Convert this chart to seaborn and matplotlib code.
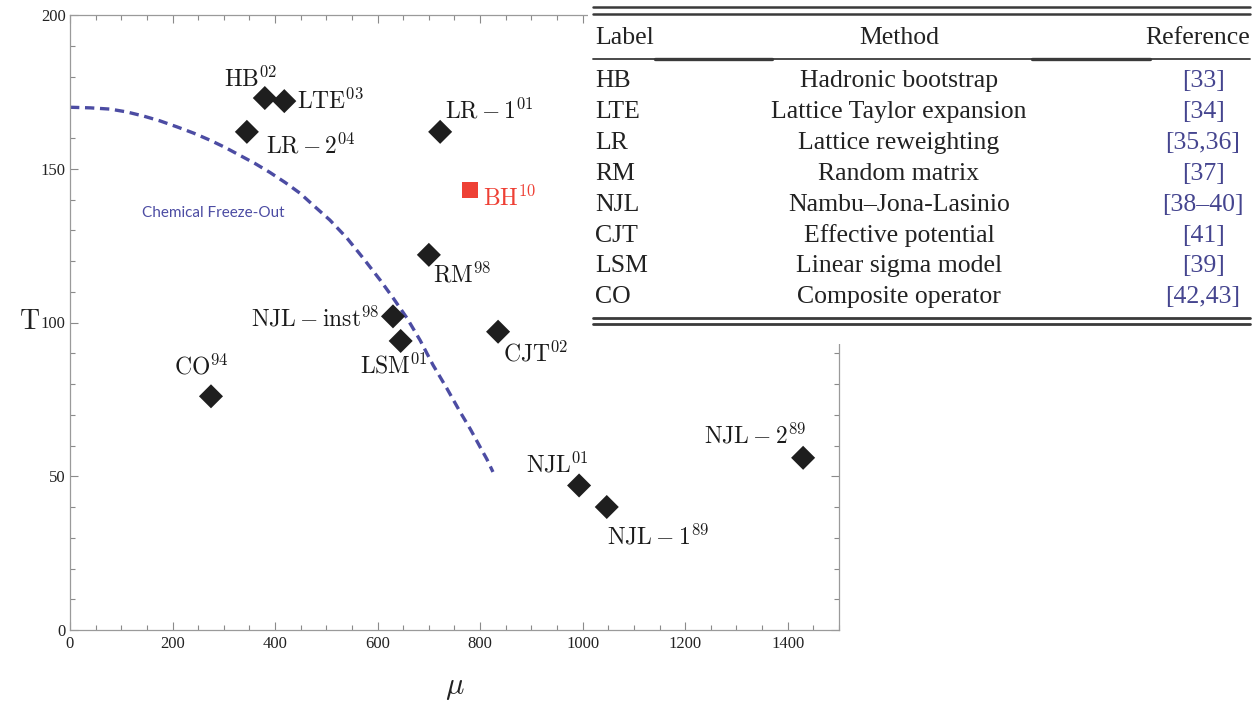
import seaborn as sns
import matplotlib.pyplot as plt
import numpy as np
import pandas as pd
from matplotlib.lines import Line2D
from matplotlib.patches import Rectangle
from matplotlib.ticker import MultipleLocator

# data
labels = ['HB', 'LTE', 'LR-2', 'LR-1', 'RM', 'NJL-inst', 'LSM', 'CJT', 'CO', 'NJL', 'NJL-1', 'NJL-2']
tex = [r'$\mathrm{HB}^{02}$', r'$\mathrm{LTE}^{03}$', r'$\mathrm{LR}-2^{04}$', r'$\mathrm{LR}-1^{01}$',
       r'$\mathrm{RM}^{98}$', r'$\mathrm{NJL}-\mathrm{inst}^{98}$', r'$\mathrm{LSM}^{01}$',
       r'$\mathrm{CJT}^{02}$', r'$\mathrm{CO}^{94}$', r'$\mathrm{NJL}^{01}$',
       r'$\mathrm{NJL}-1^{89}$', r'$\mathrm{NJL}-2^{89}$']
mu = [380, 418, 345, 722, 700, 630, 645, 835, 275, 993, 1047, 1430]
T = [173, 172, 162, 162, 122, 102, 94, 97, 76, 47, 40, 56]

bh_mu = [780]
bh_T = [143]

cfo_mu = [0, 40, 78, 110, 142, 175, 209, 241, 273, 303, 332, 361, 390, 420, 449, 474, 507,
          540, 572, 605, 631, 657, 683, 708, 735, 761, 781, 800, 813, 825]
cfo_T = [170, 169.8, 169.4, 168.5, 167.2, 165.6, 163.6, 161.6, 159.3, 156.9, 154.3, 151.7, 148.8,
         145.5, 142, 138.2, 133.3, 127.5, 120.9, 113.8, 107.8, 101.5, 94.2, 86.2, 78.6, 70.9,
         65.3, 59.5, 55.6, 51.4]

# table
tab_label = ['HB', 'LTE', 'LR', 'RM', 'NJL', 'CJT', 'LSM', 'CO']
tab_method = ['Hadronic bootstrap', 'Lattice Taylor expansion', 'Lattice reweighting', 'Random matrix',
              'Nambu\u2013Jona-Lasinio', 'Effective potential', 'Linear sigma model', 'Composite operator']
tab_ref = ['[33]', '[34]', '[35,36]', '[37]', '[38\u201340]', '[41]', '[39]', '[42,43]']

# label offsets in pixels (dx, dy down), alignment
offs = {'HB': (-14, -19, 'center'), 'LTE': (13, 0, 'left'), 'LR-2': (19, 14, 'left'),
        'LR-1': (5, -21, 'left'), 'RM': (4, 20, 'left'), 'NJL-inst': (-14, 2, 'right'),
        'LSM': (-7, 25, 'center'), 'CJT': (5, 22, 'left'), 'CO': (-10, -29, 'center'),
        'NJL': (-22, -21, 'center'), 'NJL-1': (0, 30, 'left'), 'NJL-2': (3, -22, 'right')}

sns.set_style('ticks')
plt.rcParams['font.family'] = ['Liberation Serif', 'DejaVu Serif']
plt.rcParams['mathtext.fontset'] = 'cm'

W, H = 1258, 704
fig = plt.figure(figsize=(W / 100, H / 100), dpi=100)
ax = fig.add_axes([70 / W, (H - 630) / H, 769 / W, 615 / H])

df = pd.DataFrame({'mu': mu, 'T': T, 'label': labels})
cfo = pd.DataFrame({'mu': cfo_mu, 'T': cfo_T})

sns.lineplot(data=cfo, x='mu', y='T', ax=ax, color='#4c4ca3', lw=2.4, sort=False,
             estimator=None, dashes=False)
ax.lines[-1].set_dashes((2.8, 1.7))
sns.scatterplot(data=df, x='mu', y='T', ax=ax, marker='D', s=150, color='#1e1e1e',
                edgecolor='none', linewidth=0, zorder=3)
sns.scatterplot(x=bh_mu, y=bh_T, ax=ax, marker='s', s=140, color='#ee4035',
                edgecolor='none', linewidth=0, zorder=3)

for lab, t, x, y in zip(labels, tex, mu, T):
    dx, dy, ha = offs[lab]
    ax.annotate(t, (x, y), xytext=(dx * 0.72, -dy * 0.72), textcoords='offset points',
                ha=ha, va='center', fontsize=17, color='#1a1a1a')
ax.annotate(r'$\mathrm{BH}^{10}$', (bh_mu[0], bh_T[0]), xytext=(13 * 0.72, -8 * 0.72),
            textcoords='offset points', ha='left', va='center', fontsize=17, color='#ee4035')

ax.text(140, 135.6, 'Chemical Freeze-Out', fontsize=11, color='#4c4ca3',
        family='Lato', ha='left', va='center')

ax.set_xlim(0, 1500)
ax.set_ylim(0, 200)
ax.set_xticks(np.arange(0, 1401, 200))
ax.set_yticks(np.arange(0, 201, 50))
ax.xaxis.set_minor_locator(MultipleLocator(50))
ax.yaxis.set_minor_locator(MultipleLocator(10))
ax.tick_params(which='both', direction='in', top=True, right=True, color='#8a8a8a', width=0.8,
               labelsize=12, labelcolor='#222222')
ax.tick_params(which='major', length=6)
ax.tick_params(which='minor', length=3.5)
ax.tick_params(axis='x', pad=4)
ax.tick_params(axis='y', pad=3)
for s in ax.spines.values():
    s.set_color('#9a9a9a')
    s.set_linewidth(0.9)
ax.set_xlabel('')
ax.set_ylabel('')
fig.text(455 / W, 1 - 688 / H, r'$\mu$', fontsize=22, ha='center', va='center', color='#222222')
fig.text(30 / W, 1 - 323 / H, r'$\mathrm{T}$', fontsize=20, ha='center', va='center', color='#222222')


# table drawn over the top right corner
def fx(x):
    return x / W


def fy(y):
    return 1 - y / H


fig.add_artist(Rectangle((fx(588), fy(344)), fx(W) - fx(588), fy(0) - fy(344),
                         transform=fig.transFigure, facecolor='white', edgecolor='none', zorder=2))


def rule(y, x0, x1, lw):
    fig.add_artist(Line2D([fx(x0), fx(x1)], [fy(y), fy(y)], transform=fig.transFigure,
                          color='#3a3a3a', lw=lw, zorder=3))


rule(7, 593, 1250, 1.8)
rule(14, 593, 1250, 1.8)
rule(59, 593, 1250, 1.3)
rule(59, 655, 772, 2.4)
rule(59, 1032, 1150, 2.4)
rule(318, 593, 1250, 2.0)
rule(324, 593, 1250, 2.0)

tfs = 18.5
fig.text(fx(595), fy(38), 'Label', fontsize=tfs, ha='left', va='center', color='#222222', zorder=4)
fig.text(fx(899), fy(38), 'Method', fontsize=tfs, ha='center', va='center', color='#222222', zorder=4)
fig.text(fx(1250), fy(38), 'Reference', fontsize=tfs, ha='right', va='center', color='#222222', zorder=4)
row_y = [81, 112, 143, 174, 205, 236, 266, 297]
for yy, a, b, c in zip(row_y, tab_label, tab_method, tab_ref):
    fig.text(fx(595), fy(yy), a, fontsize=tfs, ha='left', va='center', color='#222222', zorder=4)
    fig.text(fx(899), fy(yy), b, fontsize=tfs, ha='center', va='center', color='#222222', zorder=4)
    fig.text(fx(1203), fy(yy), c, fontsize=tfs, ha='center', va='center', color='#45458f', zorder=4)

fig.savefig('out.png', dpi=100)
